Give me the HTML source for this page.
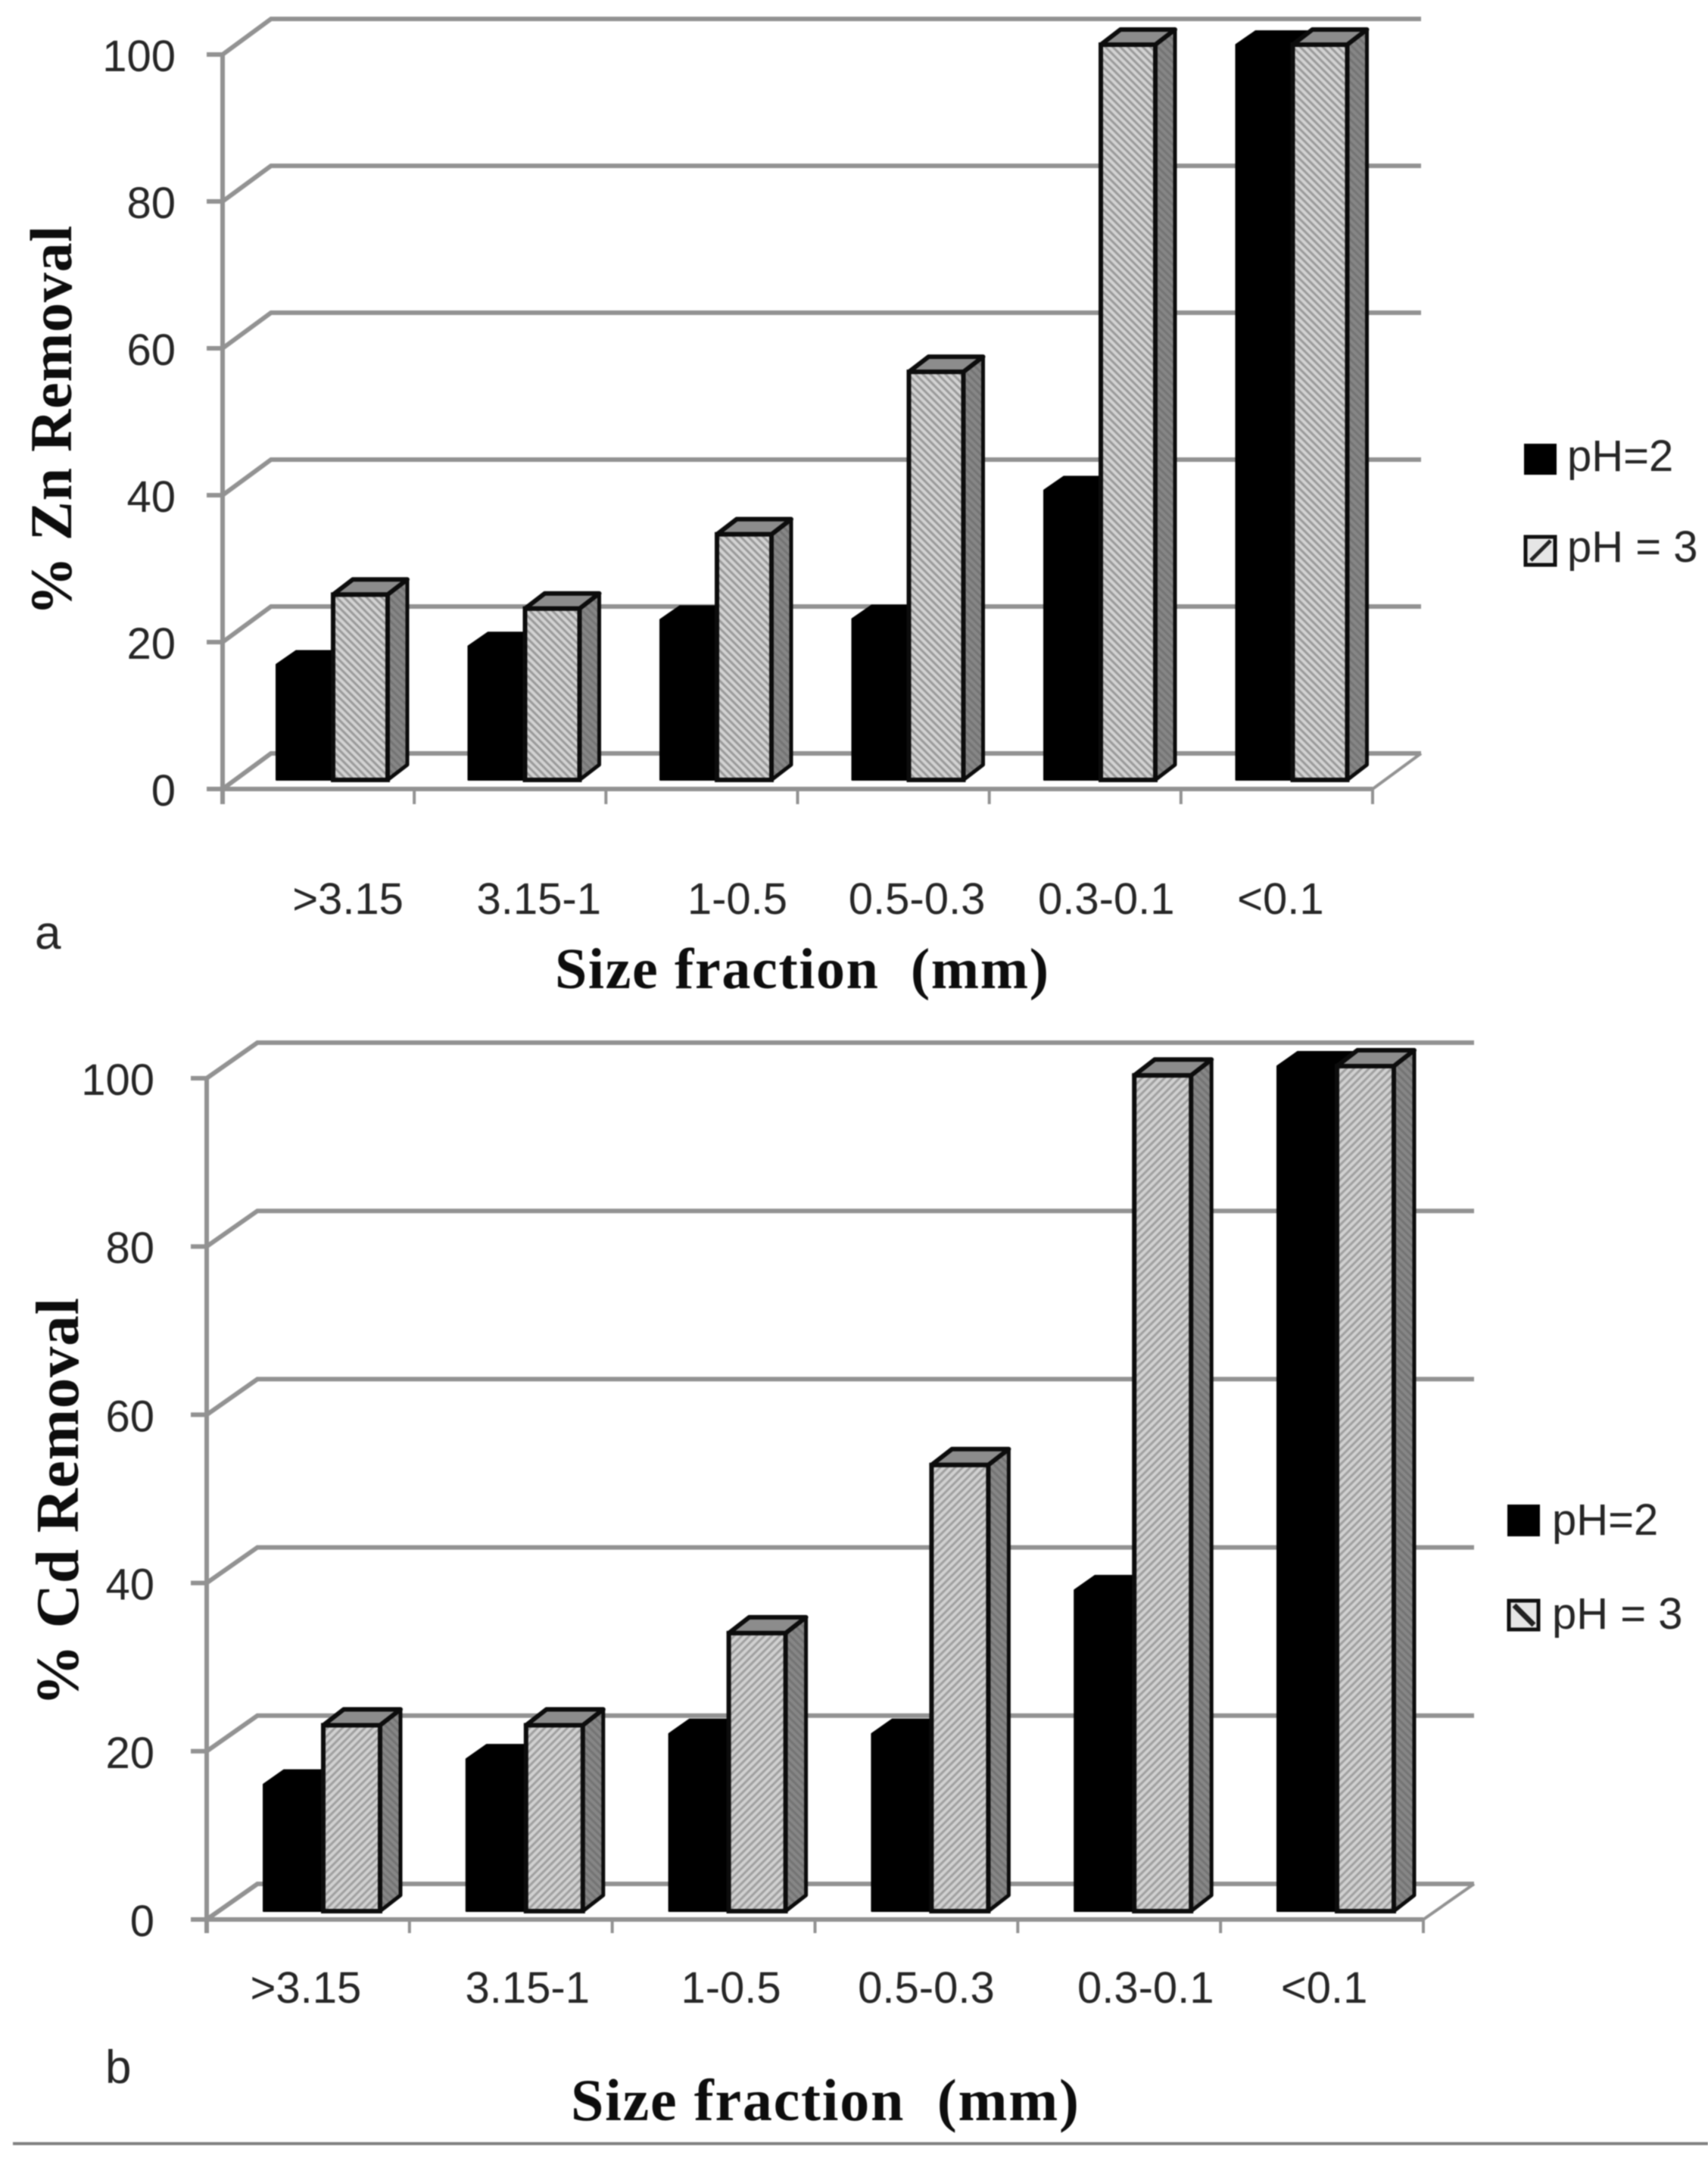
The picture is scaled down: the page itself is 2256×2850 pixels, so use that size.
<!DOCTYPE html>
<html lang="en">
<head>
<meta charset="utf-8">
<title>Zn and Cd removal by size fraction</title>
<style>
html,body{margin:0;padding:0;background:#fff;overflow:hidden;}
svg{display:block;filter:blur(0.8px);}
.num{font-family:"Liberation Sans",sans-serif;font-size:58px;fill:#262626;}
.panel{font-size:62px;}
.ttl{font-family:"Liberation Serif",serif;font-weight:bold;fill:#0d0d0d;white-space:pre;}
</style>
</head>
<body>
<svg id="figure" xmlns="http://www.w3.org/2000/svg" width="2256" height="2850" viewBox="0 0 2256 2850">
  <defs>
    <pattern id="hatch-a" width="7" height="7" patternUnits="userSpaceOnUse" patternTransform="rotate(-45)">
      <rect width="7" height="7" fill="#d2d2d2"/>
      <rect width="3" height="7" fill="#9a9a9a"/>
    </pattern>
    <pattern id="hatch-b" width="7" height="7" patternUnits="userSpaceOnUse" patternTransform="rotate(45)">
      <rect width="7" height="7" fill="#d0d0d0"/>
      <rect width="3" height="7" fill="#a0a0a0"/>
    </pattern>
    <pattern id="hatch-side" width="7" height="7" patternUnits="userSpaceOnUse" patternTransform="rotate(-45)">
      <rect width="7" height="7" fill="#868686"/>
      <rect width="3" height="7" fill="#747474"/>
    </pattern>
  </defs>
  <rect width="2256" height="2850" fill="#fff"/>
  <g id="chart-a"></g>
  <g id="chart-b"></g>

  <text class="ttl" font-size="78" transform="translate(94,813) rotate(-90)" textLength="515" xml:space="preserve">% Zn Removal</text>
  <text class="ttl" font-size="76" x="733" y="1305" textLength="652" xml:space="preserve">Size fraction  (mm)</text>
  <text class="num panel" x="46" y="1253">a</text>

  <g>
    <rect x="2013" y="586" width="43" height="41" fill="#000"/>
    <text class="num" x="2070" y="622">pH=2</text>
    <rect x="2015" y="709" width="39" height="37" fill="#e6e6e6" stroke="#111" stroke-width="5"/>
    <line x1="2022" y1="740" x2="2048" y2="714" stroke="#222" stroke-width="5"/>
    <text class="num" x="2070" y="742">pH = 3</text>
  </g>

  <text class="ttl" font-size="81" transform="translate(103,2253) rotate(-90)" textLength="539" xml:space="preserve">% Cd Removal</text>
  <text class="ttl" font-size="78" x="754" y="2800" textLength="671" xml:space="preserve">Size fraction  (mm)</text>
  <text class="num panel" x="139" y="2751">b</text>

  <g>
    <rect x="1991" y="1987" width="43" height="42" fill="#000"/>
    <text class="num" x="2050" y="2027">pH=2</text>
    <rect x="1993" y="2114" width="39" height="38" fill="#e6e6e6" stroke="#111" stroke-width="5"/>
    <line x1="2000" y1="2120" x2="2026" y2="2146" stroke="#222" stroke-width="7"/>
    <text class="num" x="2050" y="2151">pH = 3</text>
  </g>

  <rect x="17" y="2829" width="2239" height="4" fill="#808080"/>
</svg>
<script>
const categories = [">3.15", "3.15-1", "1-0.5", "0.5-0.3", "0.3-0.1", "<0.1"];
const yTickValues = [0, 20, 40, 60, 80, 100];
const znPh2 = [15.7, 18.2, 21.8, 21.9, 39.4, 100];
const znPh3 = [25.2, 23.3, 33.4, 55.5, 100, 100];
const cdPh2 = [15, 18, 21, 21, 38, 100];
const cdPh3 = [22, 22, 32.9, 52.8, 98.9, 100];

const SVG_NS = "http://www.w3.org/2000/svg";
const GRID_COLOR = "#929292";

function make(tag, attrs, parent, text) {
  const node = document.createElementNS(SVG_NS, tag);
  for (const key in attrs) node.setAttribute(key, attrs[key]);
  if (text !== undefined) node.textContent = text;
  parent.appendChild(node);
  return node;
}

function drawChart(root, g, ph2, ph3) {
  const yAxis = v => g.y0 + (g.y100 - g.y0) * v / 100;
  const barY = v => g.barBase + (g.barTop - g.barBase) * v / 100;
  const band = (g.axisRight - g.axisLeft) / categories.length;
  const bandCentre = i => g.axisLeft + band * (i + 0.5);
  const groupX = i => g.barStart + g.barPitch * i;

  yTickValues.forEach(v => {
    const y = yAxis(v);
    const grid = make("polyline", {
      points: `${g.axisLeft},${y} ${g.axisLeft + g.depthX},${y - g.depthY} ${g.axisRight + g.depthX},${y - g.depthY}`,
      fill: "none", stroke: GRID_COLOR, "stroke-width": 6
    }, root);
    
    
    const tick = make("line", {
      x1: g.axisLeft - 21, x2: g.axisLeft, y1: y, y2: y, stroke: GRID_COLOR, "stroke-width": 6
    }, root);
    
    
    const label = make("text", {
      class: "num", x: g.tickLabelRight, y: y + g.tickLabelDy, "text-anchor": "end"
    }, root, String(v));
    
    
  });

  const yLine = make("line", {
    x1: g.axisLeft, x2: g.axisLeft, y1: yAxis(100), y2: g.tickBottom, stroke: GRID_COLOR, "stroke-width": 6
  }, root);
  
  

  const xLine = make("line", {
    x1: g.axisLeft, x2: g.axisRight, y1: g.y0, y2: g.y0, stroke: GRID_COLOR, "stroke-width": 6
  }, root);
  
  

  const floorEdge = make("line", {
    x1: g.axisRight, y1: g.y0, x2: g.axisRight + g.depthX, y2: g.y0 - g.depthY, stroke: GRID_COLOR, "stroke-width": 4
  }, root);
  
  

  categories.forEach((name, i) => {
    const tx = g.axisLeft + band * (i + 1);
    const tick = make("line", {
      x1: tx, x2: tx, y1: g.y0, y2: g.tickBottom, stroke: GRID_COLOR, "stroke-width": 4
    }, root);
    
    

    const label = make("text", {
      class: "num", x: bandCentre(i) + g.labelNudge[i], y: g.labelBaseline, "text-anchor": "middle"
    }, root, name);
    
    

    const x0 = groupX(i);
    const x1 = x0 + g.blackW;
    const x2 = x1 + g.hatchW;
    const dx = g.barDx;
    const dy = g.barDy;

    const yb = barY(ph2[i]);
    const blackBar = make("polygon", {
      points: `${x0},${g.barBase} ${x0},${yb} ${x0 + dx},${yb - dy + 2} ${x1 + dx},${yb - dy + 2} ${x1 + dx},${g.barBase - dy} ${x1},${g.barBase}`,
      fill: "#000", stroke: "#000", "stroke-width": 2, "stroke-linejoin": "round"
    }, root);
    
    

    const yh = barY(ph3[i]);
    const side = make("polygon", {
      points: `${x2},${g.barBase} ${x2},${yh} ${x2 + dx},${yh - dy} ${x2 + dx},${g.barBase - dy}`,
      fill: "url(#hatch-side)", stroke: "#0c0c0c", "stroke-width": 5, "stroke-linejoin": "round"
    }, root);
    
    

    const top = make("polygon", {
      points: `${x1},${yh} ${x1 + dx},${yh - dy} ${x2 + dx},${yh - dy} ${x2},${yh}`,
      fill: "#8c8c8c", stroke: "#0c0c0c", "stroke-width": 6, "stroke-linejoin": "round"
    }, root);
    
    

    const front = make("rect", {
      x: x1, y: yh, width: g.hatchW, height: g.barBase - yh,
      fill: g.hatch, stroke: "#0c0c0c", "stroke-width": 6
    }, root);
    
    
  });
}

drawChart(document.getElementById("chart-a"), {
  axisLeft: 294, axisRight: 1813, y0: 1042, y100: 72, depthX: 64, depthY: 47,
  tickBottom: 1062, tickLabelRight: 232, tickLabelDy: 22, labelBaseline: 1207,
  labelNudge: [39, 38, 47, 31, 28, 5],
  barStart: 365, barPitch: 253.5, blackW: 75, hatchW: 72, barDx: 26, barDy: 20,
  barBase: 1030, barTop: 59, hatch: "url(#hatch-a)"
}, znPh2, znPh3);

drawChart(document.getElementById("chart-b"), {
  axisLeft: 273, axisRight: 1880, y0: 2535, y100: 1424, depthX: 67, depthY: 47,
  tickBottom: 2553, tickLabelRight: 204, tickLabelDy: 22, labelBaseline: 2645,
  labelNudge: [-3, 22, 23, 13, 35, 3],
  barStart: 348, barPitch: 267.8, blackW: 79, hatchW: 75, barDx: 27, barDy: 21,
  barBase: 2524, barTop: 1408, hatch: "url(#hatch-b)"
}, cdPh2, cdPh3);
</script>
</body>
</html>
